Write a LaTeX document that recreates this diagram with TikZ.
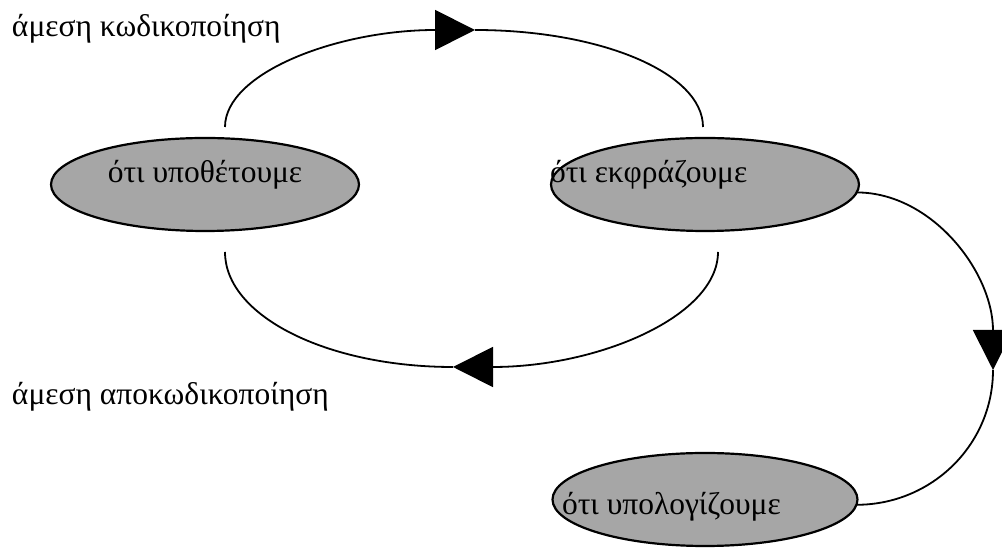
\documentclass[tikz,border=0pt]{standalone}
\usepackage{fontspec}
\setmainfont{Liberation Serif}
\usetikzlibrary{arrows.meta,shapes.geometric}
\definecolor{ovalgray}{RGB}{166,166,166}
\tikzset{
  oval/.style={ellipse, draw=black, line width=2.2pt, fill=ovalgray,
    minimum width=308pt, minimum height=93pt, inner sep=0pt, outer sep=0pt},
  lbl/.style={inner sep=0pt, outer sep=0pt, font=\fontsize{31.5}{36}\selectfont},
  flow/.style={line width=1.8pt},
  head/.style={-{Triangle[length=40pt,width=40pt]}}
}
\begin{document}
\begin{tikzpicture}[x=1pt,y=1pt]
  \useasboundingbox (0,0) rectangle (1002,548);
  \clip (0,0) rectangle (1002,548);

  % the three ovals
  \node[oval] (e1) at (205,363.5) {};
  \node[oval] (e2) at (705,363.5) {};
  \node[oval, minimum width=305pt] (e3) at (705,48.5) {};

  % texts
  \node[lbl, anchor=base] (t1) at (205,365) {ότι υποθέτουμε};
  \node[lbl, anchor=base west] (t2) at (550,365) {ότι εκφράζουμε};
  \node[lbl, anchor=base west] (t3) at (562,33) {ότι υπολογίζουμε};
  \node[lbl, anchor=base west] (enc) at (12,511) {άμεση κωδικοποίηση};
  \node[lbl, anchor=base west] (dec) at (12,143) {άμεση αποκωδικοποίηση};

  % end points of the loops
  \coordinate (upL) at (225,421);
  \coordinate (upT) at (475,518);
  \coordinate (upR) at (703,421);
  \coordinate (loR) at (718,296);
  \coordinate (loB) at (453,181);
  \coordinate (loL) at (225,296);
  \coordinate (rtT) at (993,178);

  % upper loop: encoding
  \draw[flow, head] (upL) .. controls +(0,54) and +(-138,0) .. (upT);
  \draw[flow] (upT) .. controls +(126,0) and +(0,54) .. (upR);

  % lower loop: decoding
  \draw[flow, head] (loR) .. controls +(0,-64) and +(146,0) .. (loB);
  \draw[flow] (loB) .. controls +(-126,0) and +(0,-64) .. (loL);

  % right loop towards the lower oval
  \draw[flow, head] (e2.-3) .. controls +(75,0) and +(0,98) .. (rtT);
  \draw[flow] (rtT) .. controls +(0,-75) and +(75,0) .. (e3.-2);
\end{tikzpicture}
\end{document}
